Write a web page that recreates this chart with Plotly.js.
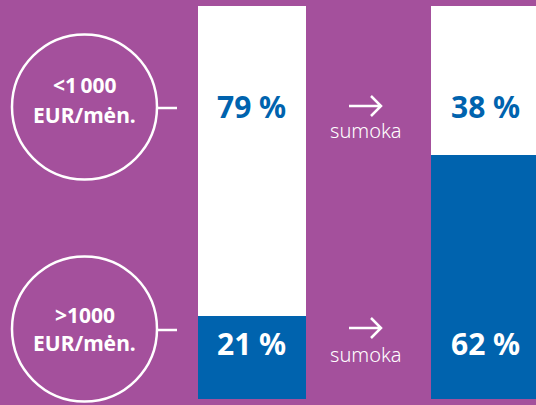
<!DOCTYPE html>
<html>
<head>
<meta charset="utf-8">
<script src="https://cdn.plot.ly/plotly-3.0.1.min.js"></script>
<style>
html,body{margin:0;padding:0;background:#a4509c;}
#chart{width:536px;height:405px;}
</style>
</head>
<body>
<div id="chart"></div>
<script>
// Data
var categories = ["before", "after"];
var lowIncomeShare = [79, 38];   // <1 000 EUR/mėn. (white, top)
var highIncomeShare = [21, 62];  // >1000 EUR/mėn. (blue, bottom)
var rowLabelTop = ["&lt;1\u2009000", ">1000"];
var rowLabelBottom = ["EUR/mėn.", "EUR/mėn."];
var arrowLabel = "sumoka";

var PURPLE = "#a4509c";
var BLUE = "#0063ae";
var W = 536, H = 405;
function px(x){return x / W;}
function py(y){return 1 - y / H;}

var traces = [
  {type: "bar", x: categories, y: highIncomeShare, marker: {color: BLUE, line: {width: 0}},
   width: 0.4635, hoverinfo: "skip", showlegend: false},
  {type: "bar", x: categories, y: lowIncomeShare, marker: {color: "#ffffff", line: {width: 0}},
   width: 0.4635, hoverinfo: "skip", showlegend: false}
];

var rowY = [107, 329];          // circle rows (pixels)
var labY1 = [85, 315], labY2 = [115, 343];
var pctY = [106, 343];
var shapes = [];
var annotations = [];
var font = "'Noto Sans', 'Open Sans', sans-serif";

for (var r = 0; r < 2; r++) {
  var cy = rowY[r];
  shapes.push({type: "circle", xref: "paper", yref: "paper",
    x0: px(12), x1: px(157), y0: py(cy + 72.5), y1: py(cy - 72.5),
    line: {color: "#ffffff", width: 2.5}, layer: "above"});
  shapes.push({type: "line", xref: "paper", yref: "paper",
    x0: px(157), x1: px(177), y0: py(cy + 1), y1: py(cy + 1),
    line: {color: "#ffffff", width: 2.5}, layer: "above"});
  annotations.push({xref: "paper", yref: "paper", x: px(84.5), y: py(labY1[r]),
    text: "<b>" + rowLabelTop[r] + "</b>", showarrow: false,
    font: {family: font, size: 21, color: "#ffffff"}, align: "center",
    xanchor: "center", yanchor: "middle"});
  annotations.push({xref: "paper", yref: "paper", x: px(84.5), y: py(labY2[r]),
    text: "<b>" + rowLabelBottom[r] + "</b>", showarrow: false,
    font: {family: font, size: 21, color: "#ffffff"}, align: "center",
    xanchor: "center", yanchor: "middle"});
  // arrow
  var ay = r === 0 ? 106 : 328;
  shapes.push({type: "path", xref: "paper", yref: "paper",
    path: "M" + px(349) + "," + py(ay) + " L" + px(381) + "," + py(ay) +
          " M" + px(371) + "," + py(ay - 10) + " L" + px(381) + "," + py(ay) +
          " L" + px(371) + "," + py(ay + 10),
    line: {color: "#ffffff", width: 2.5}, layer: "above"});
  annotations.push({xref: "paper", yref: "paper", x: px(366), y: py(r === 0 ? 130 : 354),
    text: arrowLabel, showarrow: false,
    font: {family: font, size: 20, color: "#ffffff", weight: 300},
    xanchor: "center", yanchor: "middle"});
}

// percent labels
for (var i = 0; i < categories.length; i++) {
  annotations.push({xref: "x", yref: "paper", x: categories[i], y: py(pctY[0]),
    text: "<b>" + lowIncomeShare[i] + " %</b>", showarrow: false,
    font: {family: font, size: 30, color: BLUE}, xanchor: "center", yanchor: "middle"});
  annotations.push({xref: "x", yref: "paper", x: categories[i], y: py(pctY[1]),
    text: "<b>" + highIncomeShare[i] + " %</b>", showarrow: false,
    font: {family: font, size: 30, color: "#ffffff"}, xanchor: "center", yanchor: "middle"});
}

var layout = {
  width: W, height: H,
  margin: {l: 0, r: 0, t: 0, b: 0, pad: 0},
  paper_bgcolor: PURPLE, plot_bgcolor: PURPLE,
  barmode: "stack", bargap: 0,
  xaxis: {type: "category", range: [-1.0815, 1.2189], visible: false, fixedrange: true},
  yaxis: {range: [-1.527, 101.527], visible: false, fixedrange: true},
  shapes: shapes,
  annotations: annotations,
  showlegend: false
};

Plotly.newPlot("chart", traces, layout, {displayModeBar: false, staticPlot: true});
</script>
</body>
</html>
